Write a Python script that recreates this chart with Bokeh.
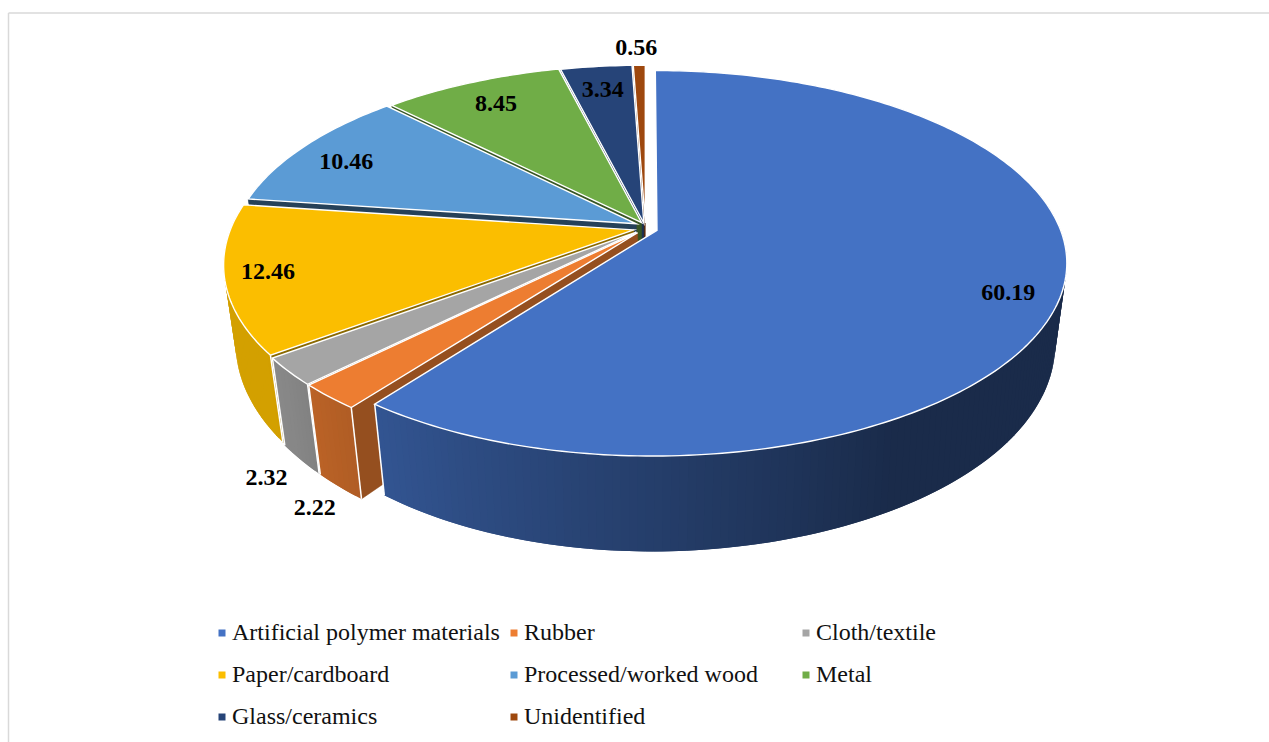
import numpy as np
from bokeh.plotting import figure
from bokeh.models import Range1d
from bokeh.core.properties import value
from bokeh.embed import file_html
from bokeh.resources import INLINE

categories = ["Artificial polymer materials", "Rubber", "Cloth/textile", "Paper/cardboard",
              "Processed/worked wood", "Metal", "Glass/ceramics", "Unidentified"]
values = [60.19, 2.22, 2.32, 12.46, 10.46, 8.45, 3.34, 0.56]
value_labels = ["60.19", "2.22", "2.32", "12.46", "10.46", "8.45", "3.34", "0.56"]
colors = ["#4472C4", "#ED7D31", "#A5A5A5", "#FBBE00", "#5B9BD5", "#70AD47", "#264478", "#9E480E"]

# label placement, relative to each slice's bisector
label_radius = [0.912, 1.358, 1.329, 0.926, 0.877, 0.864, 0.862, 1.164]
label_dtheta = [2.5, -12.0, -13.8, 0.6, -0.8, 0.45, 0.1, -0.2]
# radial wall shading
wall_shade = [0.6, 0.63, 0.6, 0.55, 0.42, 0.5, 0.7, 0.6]
# small extra displacement of a slice on the disc, on top of the explosion
nudge_u = [0, 0, 0, 0, 0.004, 0.005, 0, 0]
nudge_v = [0, 0, 0, 0, 0.012, 0.005, 0, 0]

W, H_PAGE = 1269, 742
EXPLODE = 0.03
K = 0.171
TOP = dict(cx=645.0, y0=228.0, R=403.0, H=186.5, skew=7.0, power=2)
BOT = dict(cx=645.0, y0=304.5, R=391.7, H=202.0, skew=7.0, power=5)
FONT = value("Liberation Serif")


def project(u, v, g):
    d = 1 + K * v
    front = np.clip(-np.asarray(v, dtype=float), 0, None)
    return g["cx"] + g["R"] * u / d - g["skew"] * front ** g["power"], g["y0"] - g["H"] * v / d


def shade(hex_color, f):
    c = [int(hex_color[i:i + 2], 16) for i in (1, 3, 5)]
    return "#%02x%02x%02x" % tuple(int(round(min(255, x * f))) for x in c)


p = figure(width=W, height=H_PAGE, x_range=Range1d(0, W), y_range=Range1d(H_PAGE, 0),
           output_backend="svg", toolbar_location=None, min_border=0)
p.axis.visible = False
p.grid.visible = False
p.outline_line_color = None
p.background_fill_color = "white"

# frame of the original picture
p.line([8, W], [12.5, 12.5], line_color="#d9d9d9", line_width=1.5)
p.line([8, 8], [12.5, H_PAGE], line_color="#d9d9d9", line_width=1.5)

frac = np.array(values) / sum(values)
ends = np.cumsum(frac) * 360
starts = ends - frac * 360

for i in list(range(len(values) - 1, 0, -1)) + [0]:
    a0, a1 = starts[i], ends[i]
    mid = np.radians((a0 + a1) / 2)
    du = EXPLODE * np.sin(mid) + nudge_u[i]
    dv = EXPLODE * np.cos(mid) + nudge_v[i]
    th = np.radians(np.linspace(a0, a1, max(int(a1 - a0) + 2, 3)))
    u = np.sin(th) + du
    v = np.cos(th) + dv
    tx, ty = project(u, v, TOP)
    bx, by = project(u, v, BOT)
    ax_t, ay_t = project(du, dv, TOP)
    ax_b, ay_b = project(du, dv, BOT)
    ax_t, ay_t, ax_b, ay_b = float(ax_t), float(ay_t), float(ax_b), float(ay_b)

    # outer wall as shaded strips, each overlapping the next to hide seams; only the near rim
    xs, ys, cs = [], [], []
    n = len(th)
    for j in range(n - 1):
        if np.cos(th[j]) > 0.2:
            continue
        k = min(j + 2, n - 1)
        deg = np.degrees((th[j] + th[j + 1]) / 2)
        f = np.clip(0.38 + (deg - 150) * 0.36 / 66.0, 0.38, 0.84)
        xs.append([tx[j], tx[k], bx[k], bx[j]])
        ys.append([ty[j], ty[k], by[k], by[j]])
        cs.append(shade(colors[i], f))
    if xs:
        p.patches(xs, ys, fill_color=cs, line_color=None)

    # radial wall facing the viewer: the slice's starting edge (the big slice shows none)
    if i > 0:
        wc = shade(colors[i], wall_shade[i])
        p.patch([ax_t, tx[0], bx[0], ax_b], [ay_t, ty[0], by[0], ay_b],
                fill_color=wc, line_color=wc, line_width=0.5)

    # white corners of the near walls
    for j in (0, -1):
        if np.cos(th[j]) < -0.3:
            p.line([tx[j], bx[j]], [ty[j], by[j]], line_color="white", line_width=1.5)

    # top face
    p.patch([ax_t] + list(tx), [ay_t] + list(ty), fill_color=colors[i],
            line_color="white", line_width=1.4, line_join="miter")

# value labels
for i, txt in enumerate(value_labels):
    t = np.radians((starts[i] + ends[i]) / 2 + label_dtheta[i])
    lx, ly = project(label_radius[i] * np.sin(t), label_radius[i] * np.cos(t), dict(TOP, skew=0.0))
    p.text([lx - 1], [ly], text=[txt], text_font=FONT, text_font_size="24px", text_font_style="bold",
           text_color="black", text_align="center", text_baseline="middle")

# legend
col_x = [218, 510, 802]
row_y = [632.5, 674.5, 716.5]
for i, name in enumerate(categories):
    x = col_x[i % 3]
    y = row_y[i // 3]
    p.rect([x + 3.5], [y], width=7, height=7, fill_color=colors[i], line_color=None)
    p.text([x + 13.5], [y - 1.5], text=[name], text_font=FONT, text_font_size="24px",
           text_color="#111111", text_align="left", text_baseline="middle")

open("out.html", "w").write(file_html(p, INLINE))
